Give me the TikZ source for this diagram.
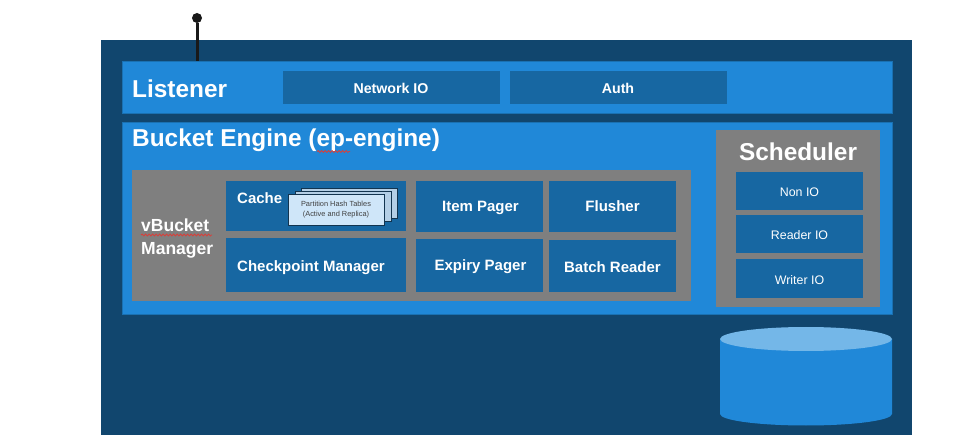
\documentclass[tikz,border=0pt]{standalone}
\usepackage{fontspec}
\setmainfont{Liberation Sans}
\usetikzlibrary{decorations.pathmorphing,calc}
\definecolor{navy}{HTML}{11466E}
\definecolor{bright}{HTML}{2088D8}
\definecolor{mid}{HTML}{1767A2}
\definecolor{greybox}{HTML}{7F7F7F}
\definecolor{paper}{HTML}{CFE6F9}
\definecolor{paperback}{HTML}{B4CFE6}
\definecolor{paperedge}{HTML}{12344F}
\definecolor{cyltop}{HTML}{74B7E8}
\definecolor{wavy}{HTML}{D8403A}
\newcommand{\pxbox}[7][]{%
  \node[#6,#1,minimum width=#4pt-#2pt,minimum height=#5pt-#3pt] (#7)
    at ({(#2+#4)/2},{(#3+#5)/2}) {};}
\tikzset{
  x=1pt,y=-1pt,
  outerbox/.style={rectangle,fill=navy,inner sep=0pt,outer sep=0pt},
  brightbox/.style={rectangle,fill=bright,draw=mid!70!bright,line width=0.6pt,inner sep=0pt,outer sep=0pt},
  greyfill/.style={rectangle,fill=greybox,inner sep=0pt,outer sep=0pt},
  midbox/.style={rectangle,fill=mid,inner sep=0pt,outer sep=0pt},
  paperbox/.style={rectangle,fill=paper,draw=paperedge,line width=0.9pt,inner sep=0pt,outer sep=0pt},
  paperbackbox/.style={paperbox,fill=paperback},
  bigtitle/.style={text=white,font=\fontsize{24.4}{26}\selectfont\bfseries,inner sep=0pt},
  boxtitle/.style={text=white,font=\fontsize{15}{17}\selectfont\bfseries,inner sep=0pt},
  smalltitle/.style={text=white,font=\fontsize{14.2}{16}\selectfont\bfseries,inner sep=0pt},
  sidetitle/.style={text=white,font=\fontsize{17.5}{22.5}\selectfont\bfseries,inner sep=0pt,align=left},
  iotitle/.style={text=white,font=\fontsize{12.4}{14}\selectfont,inner sep=0pt},
  papertext/.style={text=black!75,font=\fontsize{7.4}{10.5}\selectfont,inner sep=0pt,align=center},
  spell/.style={draw=wavy,line width=0.8pt,decorate,decoration={snake,amplitude=1pt,segment length=3.5pt}},
  pinline/.style={draw=black!90,line width=3pt},
  pindot/.style={circle,fill=black!90,minimum size=10pt,inner sep=0pt,outer sep=0pt}
}
\begin{document}
\begin{tikzpicture}
\useasboundingbox (0,0) rectangle (975,446);
\pxbox{101}{40}{912}{435}{outerbox}{outer}
\pxbox{122}{61}{892}{113}{brightbox}{listener}
\pxbox{122}{122}{892}{314}{brightbox}{engine}
\pxbox{282.5}{71}{500}{104}{midbox}{network}
\pxbox{509.5}{71}{727}{104}{midbox}{auth}
\pxbox{132}{170}{691}{301}{greyfill}{vbucket}
\pxbox{226}{181}{406}{231}{midbox}{cache}
\pxbox{226}{238}{406}{292}{midbox}{checkpoint}
\pxbox{416}{181}{543}{232}{midbox}{itempager}
\pxbox{549}{181}{676}{232}{midbox}{flusher}
\pxbox{416}{239}{543}{292}{midbox}{expiry}
\pxbox{549}{240}{676}{292}{midbox}{batch}
\pxbox{716}{130}{880}{307}{greyfill}{scheduler}
\pxbox{736}{172}{863}{210}{midbox}{nonio}
\pxbox{736}{215}{863}{253}{midbox}{readerio}
\pxbox{736}{259}{863}{298}{midbox}{writerio}
% stacked hash tables
\pxbox{301}{188}{397}{218}{paperbackbox}{sheetc}
\pxbox{295}{191}{391}{221}{paperbackbox}{sheetb}
\pxbox{288}{194}{384}{225}{paperbox}{sheeta}
\node[papertext] (sheetlabel) at (336,209.5) {Partition Hash Tables\\(Active and Replica)};
% titles
\node[bigtitle,anchor=west] (listenerlabel) at (132,89) {Listener};
\node[bigtitle,anchor=west] (enginelabel) at (132,140.5) {Bucket Engine (ep-engine)};
\node[bigtitle] (schedulerlabel) at (798,151.5) {Scheduler};
\node[sidetitle,anchor=west] (vbucketlabel) at (141,238.5) {vBucket\\Manager};
\node[smalltitle] (networklabel) at (391,88) {Network IO};
\node[smalltitle] (authlabel) at (618,88.5) {Auth};
\node[boxtitle,anchor=west] (cachelabel) at (237,198.5) {Cache};
\node[boxtitle,anchor=west] (checkpointlabel) at (237,267.5) {Checkpoint Manager};
\node[boxtitle] (itemlabel) at (480.5,207.5) {Item Pager};
\node[boxtitle] (flusherlabel) at (612.5,206.5) {Flusher};
\node[boxtitle] (expirylabel) at (480.5,266.5) {Expiry Pager};
\node[boxtitle] (batchlabel) at (612.5,267.5) {Batch Reader};
\node[iotitle] (nonlabel) at (799.5,192) {Non IO};
\node[iotitle] (readerlabel) at (799.5,235) {Reader IO};
\node[iotitle] (writerlabel) at (799.5,280) {Writer IO};
% spell-check underlines
\coordinate (epa) at (317,151.5);
\coordinate (epb) at (350,151.5);
\coordinate (vba) at (141,235);
\coordinate (vbb) at (212,235);
\draw[spell] (epa) -- (epb);
\draw[spell] (vba) -- (vbb);
% database cylinder
\fill[bright] (720,339) -- (720,414) arc[start angle=180,end angle=0,x radius=86,y radius=11.5]
  -- (892,339) -- cycle;
\fill[cyltop] (806,339) ellipse[x radius=86,y radius=12];
% pin
\node[pindot] (pin) at (197,18) {};
\coordinate (pinfoot) at (197,61);
\draw[pinline] (pin) -- (pinfoot);
\end{tikzpicture}
\end{document}
